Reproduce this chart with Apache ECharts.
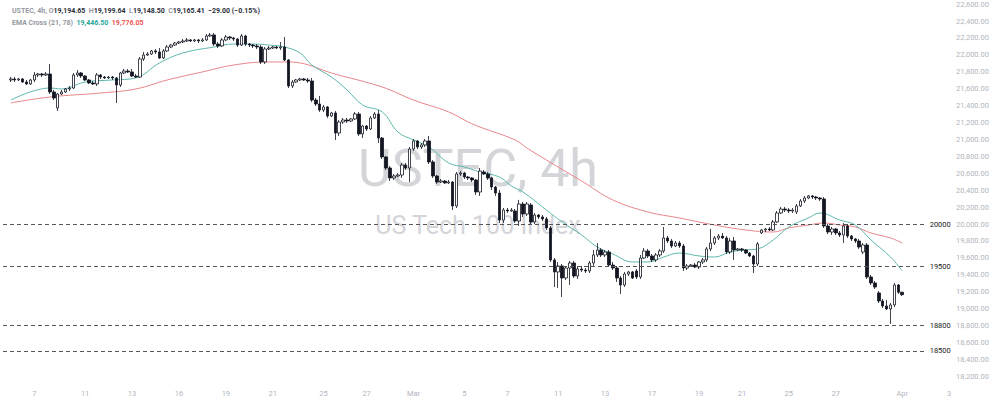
<!DOCTYPE html>
<html>
<head>
<meta charset="utf-8">
<script src="https://cdn.jsdelivr.net/npm/echarts@6/dist/echarts.min.js"></script>
<style>
html,body{margin:0;padding:0;background:#fff;}
#c{width:1000px;height:409px;}
</style>
</head>
<body>
<div id="c"></div>
<script>
// ---- data (4h bars, USTEC) ----
const opens = [
21703,21715,21703,21715,21679,21656,21703,21762,21774,21762,
21774,21561,21372,21537,21561,21597,21608,21762,21786,21750,
21703,21668,21656,21762,21738,21727,21738,21727,21644,21786,
21809,21798,21750,21738,21951,21998,22010,22046,22034,21963,
22046,22093,22116,22140,22152,22164,22176,22164,22176,22164,
22176,22223,22235,22128,22105,22176,22211,22199,22187,22116,
22223,22128,22116,22105,22093,21916,22069,22081,22093,22081,
22093,21939,21632,21679,21703,21715,21703,21691,21466,21419,
21348,21384,21277,21313,21076,21206,21230,21218,21242,21301,
21065,21159,21124,21254,21301,21017,20793,20663,20545,20568,
20580,20698,20663,20887,20982,20911,20935,20982,20734,20568,
20497,20509,20486,20497,20214,20592,20604,20556,20545,20521,
20379,20616,20592,20545,20438,20367,20048,20166,20155,20155,
20036,20237,20119,20226,20025,20107,20084,20060,19954,19576,
19434,19505,19363,19481,19540,19386,19469,19457,19446,19540,
19635,19694,19635,19670,19516,19481,19363,19280,19410,19434,
19446,19375,19599,19682,19623,19576,19635,19682,19836,19800,
19741,19776,19741,19481,19505,19516,19493,19552,19576,19706,
19776,19836,19859,19836,19670,19800,19694,19706,19694,19658,
19623,19528,19895,19930,19942,19930,20025,20131,20178,20166,
20155,20143,20214,20273,20308,20332,20320,20308,20296,19977,
19906,19942,19895,19871,19977,19859,19824,19800,19670,19753,
19375,19304,19186,19091,19032,18997,19044,19280,19194.65
];
const closes = [
21715,21703,21715,21679,21656,21703,21762,21774,21762,21774,
21561,21490,21537,21561,21597,21608,21762,21786,21750,21703,
21668,21656,21762,21738,21727,21738,21727,21644,21786,21809,
21798,21750,21738,21951,21998,22010,22046,22034,21963,22046,
22093,22116,22140,22152,22164,22176,22164,22176,22164,22176,
22223,22235,22128,22105,22176,22211,22199,22187,22116,22223,
22128,22116,22105,22093,21916,22069,22081,22093,22081,22093,
21939,21632,21679,21703,21715,21703,21691,21466,21419,21348,
21384,21277,21313,21076,21206,21230,21218,21242,21301,21065,
21159,21124,21254,21301,21017,20793,20663,20545,20568,20580,
20698,20663,20887,20982,20911,20935,20982,20734,20568,20497,
20509,20486,20497,20214,20592,20604,20556,20545,20521,20379,
20627,20592,20545,20438,20367,20048,20166,20155,20166,20036,
20237,20119,20237,20025,20107,20084,20060,19954,19576,19434,
19505,19363,19481,19540,19386,19469,19457,19446,19540,19635,
19694,19635,19670,19516,19481,19363,19280,19410,19434,19363,
19375,19599,19682,19623,19576,19635,19682,19836,19800,19741,
19776,19741,19481,19505,19516,19493,19552,19576,19706,19776,
19836,19859,19836,19670,19800,19694,19706,19694,19658,19623,
19528,19765,19930,19942,19930,20025,20131,20178,20166,20155,
20166,20214,20273,20308,20332,20320,20308,20296,19977,19906,
19942,19895,19871,19977,19859,19824,19800,19729,19753,19375,
19304,19256,19091,19032,18997,19044,19280,19194.41,19165.41
];
const highs = [
21738,21738,21727,21727,21703,21715,21798,21786,21786,21798,
21892,21585,21549,21585,21608,21632,21786,21821,21798,21762,
21715,21691,21786,21774,21750,21750,21750,21738,21798,21833,
21833,21833,21774,21975,22034,22034,22057,22069,22081,22069,
22116,22128,22152,22164,22187,22199,22187,22187,22187,22199,
22246,22258,22258,22152,22199,22235,22223,22211,22199,22246,
22235,22140,22128,22128,22116,22093,22105,22105,22105,22152,
22211,21951,21703,21715,21727,21727,21727,21727,21490,21514,
21407,21396,21325,21336,21230,21254,21254,21254,21325,21325,
21171,21171,21277,21325,21348,21029,20805,20686,20592,20604,
20722,20722,20911,21006,20994,20958,21006,21041,20757,20580,
20533,20521,20521,20509,20616,20627,20616,20568,20556,20533,
20663,20639,20616,20556,20450,20403,20190,20190,20190,20178,
20285,20261,20261,20249,20131,20119,20107,20084,19977,19599,
19552,19528,19505,19564,19564,19493,19505,19481,19564,19694,
19776,19717,19694,19694,19552,19505,19386,19434,19446,19446,
19469,19635,19717,19706,19646,19658,19706,19966,19859,19824,
19800,19800,19765,19528,19528,19540,19564,19599,19729,19942,
19859,19883,19895,19859,19836,19847,19717,19717,19706,19670,
19635,19788,19942,19954,19966,20048,20155,20202,20202,20190,
20190,20237,20296,20332,20344,20344,20332,20320,20320,20001,
19966,19954,19918,20013,20001,19871,19836,19824,19776,19776,
19398,19327,19209,19115,19103,19067,19304,19292,19199.64
];
const lows = [
21679,21679,21691,21668,21644,21644,21679,21738,21738,21750,
21537,21466,21336,21526,21549,21573,21597,21738,21727,21691,
21656,21644,21632,21715,21715,21715,21703,21431,21620,21774,
21786,21738,21727,21727,21927,21987,21998,22010,21951,21951,
22034,22081,22105,22128,22140,22152,22152,22152,22140,22152,
22164,22211,22105,22081,22093,22164,22176,22164,22093,22105,
22105,22093,22081,22069,21892,21892,22057,22069,22069,22057,
21927,21608,21608,21668,21691,21691,21668,21443,21396,21325,
21325,21254,21266,20994,21041,21183,21195,21206,21230,21041,
21017,21100,21112,21242,20958,20769,20639,20509,20521,20556,
20545,20639,20497,20864,20887,20887,20911,20710,20545,20474,
20486,20474,20474,20166,20190,20568,20533,20521,20497,20344,
20332,20580,20521,20403,20332,20013,20013,20131,20143,20013,
19977,20084,20096,20001,20001,20060,20036,19930,19552,19256,
19245,19138,19339,19280,19363,19351,19434,19422,19422,19505,
19611,19611,19611,19493,19457,19316,19174,19256,19386,19351,
19351,19351,19587,19599,19552,19552,19611,19658,19776,19717,
19729,19717,19446,19457,19493,19481,19469,19528,19552,19682,
19753,19812,19824,19646,19646,19576,19682,19670,19646,19611,
19422,19505,19883,19906,19918,19918,20013,20119,20143,20131,
20131,20119,20202,20249,20296,20296,20285,20273,19954,19883,
19871,19871,19847,19776,19836,19800,19776,19706,19646,19351,
19280,19233,19067,19008,18985,18819,19020,19174,19148.50
];

// EMA Cross (21, 78): bar index / value
const emaFastIdx = [0,10,13,19,26,32,38,44,52,57,62,66,70,74,77,82,86,90,95,99,103,107,112,116,120,125,128,131,137,141,146,150,154,159,163,167,171,176,180,184,188,191,195,199,204,207,212,216,220,225,228];
const emaFastVal = [21466,21608,21597,21679,21703,21727,21904,22022,22093,22128,22128,22116,22093,22022,21880,21738,21585,21407,21325,21088,20994,20911,20722,20675,20616,20556,20450,20379,20166,20025,19871,19729,19646,19552,19552,19611,19658,19623,19611,19670,19694,19706,19812,19966,20072,20131,20048,19989,19812,19611,19446.50];
const emaSlowIdx = [0,10,23,32,40,49,57,66,70,74,82,95,103,112,117,120,129,132,137,146,154,163,171,180,188,195,199,204,208,212,216,220,225,228];
const emaSlowVal = [21431,21502,21549,21597,21703,21798,21880,21916,21916,21904,21786,21620,21466,21325,21206,21147,20994,20899,20757,20509,20285,20143,20072,19989,19930,19906,19954,19989,20013,19989,19966,19895,19836,19776.05];

// Horizontal levels
const levels = [20000, 19500, 18800, 18500];

// Time-axis tick labels (slot index, text)
const xTickIdx  = [8,21,33,45,57,69,82,93,105,118,129,142,154,166,178,189,201,213,230,242];
const xTickText = ['7','11','13','16','19','21','25','27','Mar','5','7','11','13','17','19','21','25','27','Apr','3'];

// ---- build ----
const LEAD = 2, SLOTS = 244;
const cats = new Array(SLOTS).fill('');
xTickIdx.forEach((k, j) => { cats[k] = xTickText[j]; });

const candles = opens.map((o, i) => [i + LEAD, o, closes[i], lows[i], highs[i]]);
const fast = emaFastIdx.map((k, j) => [k + LEAD, emaFastVal[j]]);
const slow = emaSlowIdx.map((k, j) => [k + LEAD, emaSlowVal[j]]);

const fmt = v => v.toLocaleString('en-US', {minimumFractionDigits: 2, maximumFractionDigits: 2});
const n = opens.length;
const chg = closes[n-1] - closes[n-2];
const pct = chg / closes[n-2] * 100;
const sgn = v => (v < 0 ? '\u2212' : '+') + Math.abs(v).toFixed(2);
const line1 = '{g|USTEC, 4h, O}{v|' + fmt(opens[n-1]) + '}{g|  H}{v|' + fmt(highs[n-1]) +
  '}{g|  L}{v|' + fmt(lows[n-1]) + '}{g|  C}{v|' + fmt(closes[n-1]) + '}{v|  ' + sgn(chg) + ' (' + sgn(pct) + '%)}';
const line2 = '{g|EMA Cross (21, 78)}  {t|' + fmt(emaFastVal[emaFastVal.length-1]) + '}  {r|' + fmt(emaSlowVal[emaSlowVal.length-1]) + '}';

const FONT = 'Roboto, "Noto Sans", sans-serif';
const chart = echarts.init(document.getElementById('c'), null, {renderer: 'svg'});
chart.setOption({
  animation: false,
  backgroundColor: '#ffffff',
  textStyle: {fontFamily: FONT},
  title: [
    {left: 7, top: 2, text: line1, textStyle: {fontSize: 7, rich: {
      g: {color: '#9598a1', fontSize: 7, fontFamily: FONT},
      v: {color: '#2a2e39', fontSize: 7, fontFamily: FONT}}}},
    {left: 7, top: 14, text: line2, textStyle: {fontSize: 7, rich: {
      g: {color: '#9598a1', fontSize: 7, fontFamily: FONT},
      t: {color: '#26a69a', fontSize: 7, fontFamily: FONT},
      r: {color: '#ef5350', fontSize: 7, fontFamily: FONT}}}}
  ],
  graphic: [
    {type: 'text', x: 478, y: 168, z: -10, silent: true,
     style: {text: 'USTEC, 4h', fontSize: 52, fontFamily: FONT, fill: '#d4d5d9', align: 'center', verticalAlign: 'middle'}},
    {type: 'text', x: 478, y: 225, z: -10, silent: true,
     style: {text: 'US Tech 100 Index', fontSize: 25, fontFamily: FONT, fill: '#d4d5d9', align: 'center', verticalAlign: 'middle'}}
  ],
  grid: {left: 0, right: 45, top: 4.08, bottom: 15.7, containLabel: false},
  xAxis: {
    type: 'category', data: cats, boundaryGap: true,
    axisLine: {show: false}, axisTick: {show: false}, splitLine: {show: false},
    axisLabel: {interval: 0, color: '#b2b5be', fontSize: 7.5, fontFamily: FONT, margin: 0, verticalAlign: 'middle'}
  },
  yAxis: {
    type: 'value', position: 'right', min: 18000, max: 22600, interval: 200, scale: true,
    axisLine: {show: false}, axisTick: {show: false}, splitLine: {show: false},
    axisLabel: {showMinLabel: false, color: '#b2b5be', fontSize: 7.5, fontFamily: FONT, align: 'right', margin: 34,
      formatter: v => fmt(v)}
  },
  series: [
    {type: 'line', data: slow, smooth: 0.4, symbol: 'none', z: 3,
     lineStyle: {color: '#e8868a', width: 1}},
    {type: 'line', data: fast, smooth: 0.4, symbol: 'none', z: 3,
     lineStyle: {color: '#5fb8ad', width: 1}},
    {type: 'candlestick', data: candles, barWidth: 3, z: 4,
     encode: {x: 0, y: [1, 2, 3, 4]},
     itemStyle: {color: '#ffffff', color0: '#131722', borderColor: '#131722', borderColor0: '#131722', borderWidth: 0.8},
     markLine: {
       silent: true, symbol: ['none', 'none'], animation: false,
       lineStyle: {color: '#555', width: 1, type: [4, 3]},
       data: levels.map(v => [
         {coord: [0, v], label: {show: true, position: 'end', distance: 4, color: '#222', fontSize: 7.5, fontFamily: FONT, formatter: String(v)}},
         {coord: [236, v], label: {show: true, position: 'end', distance: 4, color: '#222', fontSize: 7.5, fontFamily: FONT, formatter: String(v)}}
       ])
     }}
  ]
});
</script>
</body>
</html>
